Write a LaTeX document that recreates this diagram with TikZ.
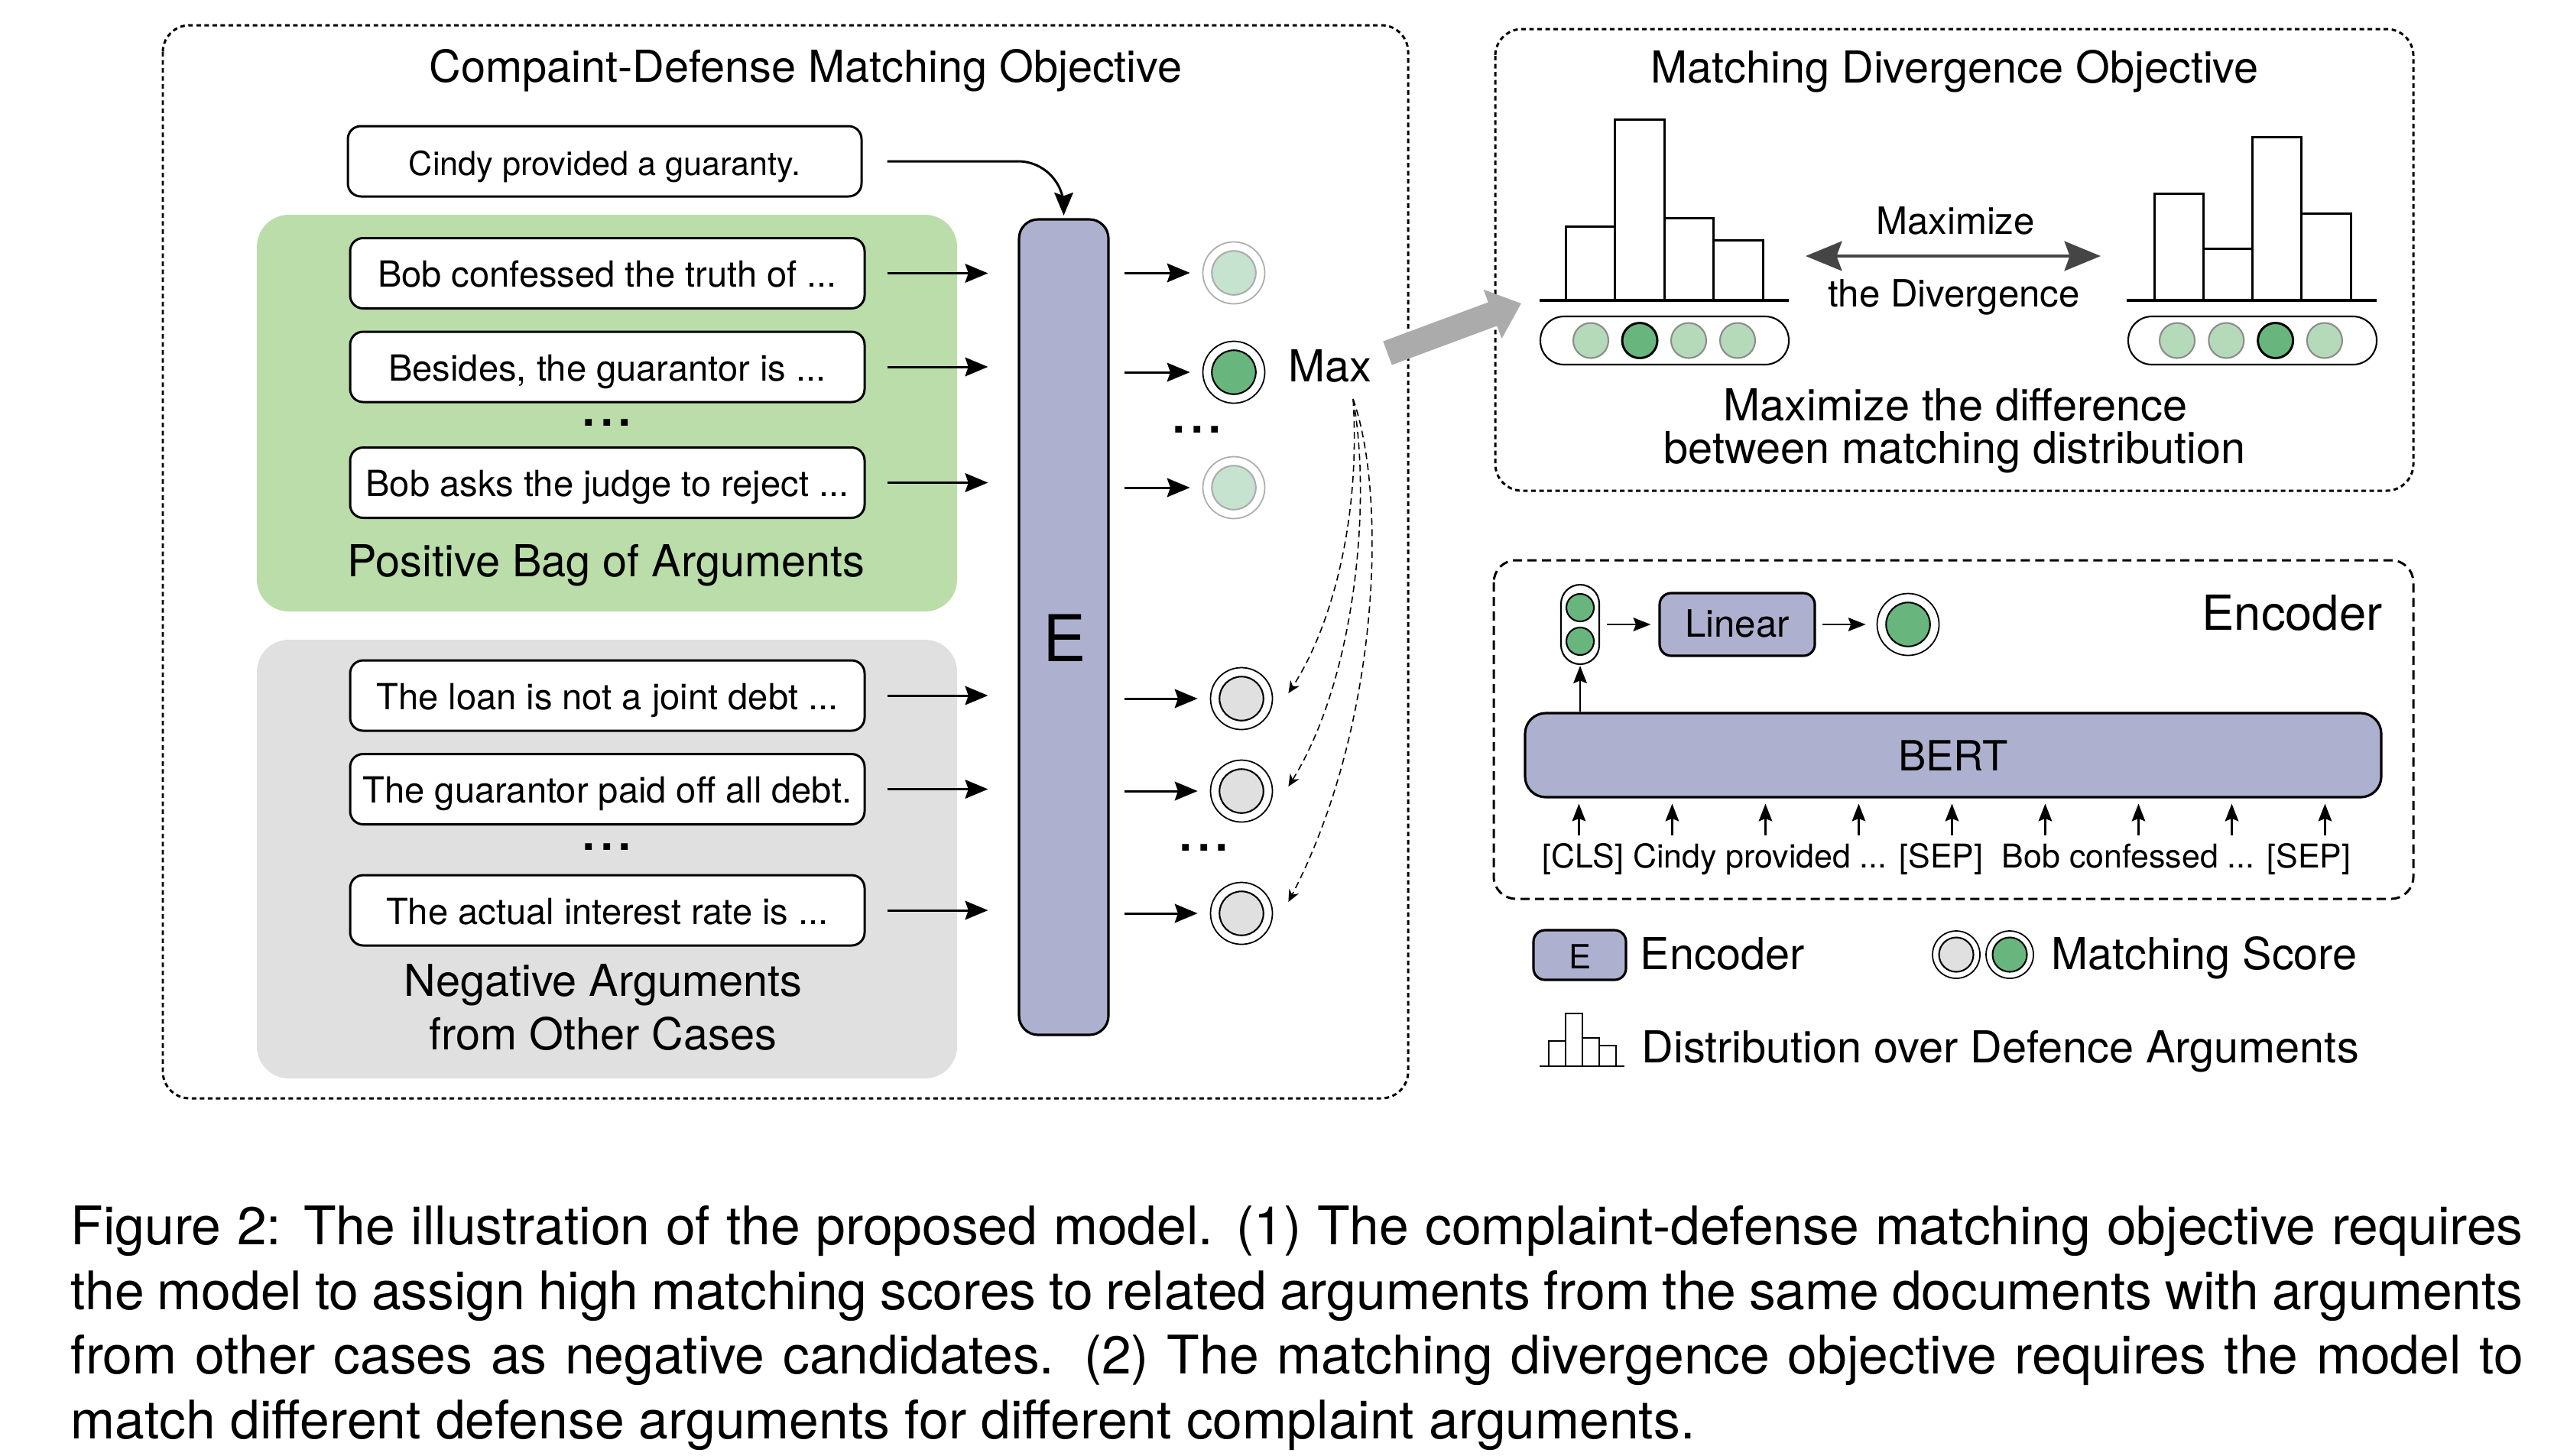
\documentclass[tikz,border=0pt]{standalone}
\usepackage{fontspec}
\setmainfont{TeX Gyre Heros}
\usetikzlibrary{arrows.meta}
\usetikzlibrary{calc}

\definecolor{encpurple}{HTML}{AEB0D0}
\definecolor{posgreen}{HTML}{BADDA9}
\definecolor{neggray}{HTML}{E0E0E0}
\definecolor{scoredark}{HTML}{68B67E}
\definecolor{scorepale}{HTML}{C6E3CF}
\definecolor{distpale}{HTML}{B5DAB9}
\definecolor{arrowgray}{HTML}{ABABAB}
\definecolor{darkarrow}{HTML}{454545}

% matching score: outer ring and filled inner disc
\newcommand{\scorenode}[6]{%
	\node[circle, draw=#3, fill=white, line width=0.5pt, minimum size=#5, inner sep=0pt] (#1) at (#2) {};
	\node[circle, draw=#3, fill=#4, line width=0.6pt, minimum size=#6, inner sep=0pt] at (#1) {};
}

\tikzset{
	cdframe/.style={line width=0.85pt, dash pattern=on 1.7pt off 1.3pt, rounded corners=0.35cm},
	encframe/.style={line width=0.85pt, dash pattern=on 3.4pt off 2pt, rounded corners=0.29cm},
	argbox/.style={draw, fill=white, line width=0.85pt, rounded corners=0.17cm, minimum width=6.73cm, minimum height=0.92cm, inner sep=0pt, text height=12pt, text depth=1.5pt, font=\fontsize{13.4pt}{16pt}\selectfont},
	encbox/.style={draw, fill=encpurple, line width=0.9pt, inner sep=0pt},
	lbl/.style={font=\fontsize{16.4pt}{19.7pt}\selectfont, inner sep=0pt},
	capl/.style={font=\fontsize{19.8pt}{24pt}\selectfont, inner sep=0pt},
	dots/.style={font=\fontsize{24pt}{24pt}\selectfont, inner sep=0pt, text height=3pt, text depth=0pt},
	arr/.style={line width=0.85pt, -{Stealth[length=8.5pt, width=7pt, inset=1.2pt]}},
	smarr/.style={line width=0.8pt, -{Stealth[length=6.5pt, width=5pt, inset=1pt]}},
	dasharr/.style={line width=0.45pt, dash pattern=on 2.5pt off 1.6pt, -{Stealth[length=4.5pt, width=4pt]}},
	bigarr/.style={draw=arrowgray, line width=0.33cm, -{Triangle[length=0.40cm, width=0.66cm]}},
	dblarr/.style={draw=darkarrow, line width=1.2pt, {Stealth[length=13.5pt, width=11pt, inset=2pt]}-{Stealth[length=13.5pt, width=11pt, inset=2pt]}},
	bar/.style={draw, fill=white, line width=0.85pt},
	thinbar/.style={draw, fill=white, line width=0.45pt},
	distdot/.style={circle, draw=black!45, fill=distpale, line width=0.6pt, minimum size=0.46cm, inner sep=0pt},
	distdark/.style={circle, draw=black, fill=scoredark, line width=0.85pt, minimum size=0.46cm, inner sep=0pt},
	clsdot/.style={circle, draw=black, fill=scoredark, line width=0.6pt, minimum size=0.36cm, inner sep=0pt},
}

\begin{document}
\begin{tikzpicture}
	\useasboundingbox (0,0) rectangle (33.58,-19.04);

	% frames
	\draw[cdframe] (2.13,-0.33) rectangle (18.42,-14.37);
	\draw[cdframe] (19.56,-0.38) rectangle (31.57,-6.42);
	\draw[encframe] (19.54,-7.33) rectangle (31.57,-11.76);

	% bags of arguments
	\fill[posgreen, rounded corners=0.42cm] (3.36,-2.81) rectangle (12.52,-8.00);
	\fill[neggray, rounded corners=0.42cm] (3.36,-8.37) rectangle (12.52,-14.11);

	% complaint-defense matching objective
	\node[lbl, anchor=base] (ttlcdm) at (10.54,-1.07) {Compaint-Defense Matching Objective};
	\node[argbox, minimum width=6.72cm, font=\fontsize{12.3pt}{15pt}\selectfont] (cindy) at (7.91,-2.11) {Cindy provided a guaranty.};
	\node[argbox] (pos1) at (7.945,-3.575) {Bob confessed the truth of ...};
	\node[argbox] (pos2) at (7.945,-4.80) {Besides, the guarantor is ...};
	\node[dots, anchor=base] (posdots) at (7.94,-5.57) {...};
	\node[argbox] (pos3) at (7.945,-6.315) {Bob asks the judge to reject ...};
	\node[lbl, anchor=base] (poslbl) at (7.93,-7.54) {Positive Bag of Arguments};
	\node[argbox] (neg1) at (7.945,-9.10) {The loan is not a joint debt ...};
	\node[argbox] (neg2) at (7.945,-10.325) {The guarantor paid off all debt.};
	\node[dots, anchor=base] (negdots) at (7.94,-11.12) {...};
	\node[argbox] (neg3) at (7.945,-11.91) {The actual interest rate is ...};
	\node[lbl, anchor=base] (neglbl1) at (7.89,-13.03) {Negative Arguments};
	\node[lbl, anchor=base] (neglbl2) at (7.89,-13.73) {from Other Cases};

	% encoder column
	\node[encbox, rounded corners=0.25cm, minimum width=1.17cm, minimum height=10.67cm] (E) at (13.915,-8.205) {};
	\node[anchor=base, inner sep=0pt, font=\fontsize{24pt}{24pt}\selectfont] (Elbl) at (13.93,-8.65) {E};
	\draw[arr, rounded corners=0.6cm, shorten <=0.32cm, shorten >=1pt] (cindy.east) -| (E.north);
	\foreach \a in {pos1,pos2,pos3,neg1,neg2,neg3} {
		\draw[arr, shorten <=0.28cm, shorten >=0.39cm] (\a.east) -- (\a.east -| E.west);
	}

	% matching scores
	\scorenode{sp1}{16.14,-3.57}{black!32}{scorepale}{0.81cm}{0.575cm}
	\scorenode{sp2}{16.14,-4.87}{black}{scoredark}{0.81cm}{0.575cm}
	\scorenode{sp3}{16.14,-6.38}{black!32}{scorepale}{0.81cm}{0.575cm}
	\scorenode{sn1}{16.24,-9.14}{black}{neggray}{0.81cm}{0.575cm}
	\scorenode{sn2}{16.24,-10.35}{black}{neggray}{0.81cm}{0.575cm}
	\scorenode{sn3}{16.24,-11.95}{black}{neggray}{0.81cm}{0.575cm}
	\foreach \s in {sp1,sp2,sp3,sn1,sn2,sn3} {
		\draw[arr, shorten <=0.19cm, shorten >=0.16cm] (E.east |- \s) -- (\s);
	}
	\node[dots, anchor=base] (spdots) at (15.66,-5.66) {...};
	\node[dots, anchor=base] (sndots) at (15.75,-11.13) {...};

	% max, and the negatives it is compared with
	\node[lbl, anchor=base] (max) at (17.40,-4.99) {Max};
	\coordinate (maxft) at (17.70,-5.22);
	\draw[dasharr] (maxft) .. controls (17.80,-6.80) and (17.42,-8.20) .. ([shift={(0.2,0.07)}]sn1.east);
	\draw[dasharr] (maxft) .. controls (17.95,-6.60) and (17.72,-8.90) .. ([shift={(0.2,0.06)}]sn2.east);
	\draw[dasharr] (maxft) .. controls (18.15,-6.50) and (18.05,-9.50) .. ([shift={(0.2,0.15)}]sn3.east);

	% towards the divergence objective
	\coordinate (bigs) at (18.15,-4.62);
	\coordinate (bige) at (19.90,-3.97);
	\draw[bigarr] (bigs) -- (bige);

	% matching divergence objective
	\node[lbl, anchor=base] (ttlmdo) at (25.57,-1.08) {Matching Divergence Objective};
	\foreach \h [count=\i from 0] in {2.96,1.56,2.85,3.14} {
		\draw[bar] (20.48+0.645*\i,-3.93) rectangle ++(0.645,{3.93-\h});
	}
	\draw[line width=1.1pt] (20.14,-3.93) -- (23.40,-3.93);
	\foreach \h [count=\i from 0] in {2.53,3.25,1.79,2.79} {
		\draw[bar] (28.18+0.643*\i,-3.93) rectangle ++(0.643,{3.93-\h});
	}
	\draw[line width=1.1pt] (27.82,-3.93) -- (31.09,-3.93);
	\node[draw, line width=0.6pt, rounded corners=0.31cm, minimum width=3.25cm, minimum height=0.63cm, inner sep=0pt] (pillL) at (21.775,-4.455) {};
	\node[draw, line width=0.6pt, rounded corners=0.31cm, minimum width=3.25cm, minimum height=0.63cm, inner sep=0pt] (pillR) at (29.465,-4.455) {};
	\foreach \i/\d in {0/distdot,1/distdark,2/distdot,3/distdot} {
		\node[\d] (dl\i) at (20.81+0.64*\i,-4.455) {};
	}
	\foreach \i/\d in {0/distdot,1/distdot,2/distdark,3/distdot} {
		\node[\d] (dr\i) at (28.48+0.643*\i,-4.455) {};
	}
	\coordinate (dbll) at (23.62,-3.35);
	\coordinate (dblr) at (27.48,-3.35);
	\draw[dblarr] (dbll) -- (dblr);
	\node[anchor=base, inner sep=0pt, font=\fontsize{14pt}{17pt}\selectfont] (maxi) at (25.58,-3.06) {Maximize};
	\node[anchor=base, inner sep=0pt, font=\fontsize{14pt}{17pt}\selectfont] (divg) at (25.56,-4.01) {the Divergence};
	\node[lbl, anchor=base] (diff1) at (25.58,-5.50) {Maximize the difference};
	\node[lbl, anchor=base] (diff2) at (25.57,-6.06) {between matching distribution};

	% encoder
	\node[anchor=base, inner sep=0pt, font=\fontsize{18pt}{21pt}\selectfont] (enclbl) at (29.985,-8.24) {Encoder};
	\node[draw, line width=0.6pt, fill=white, rounded corners=0.25cm, minimum width=0.5cm, minimum height=1.04cm, inner sep=0pt] (cls) at (20.67,-8.17) {};
	\node[clsdot] (cls1) at (20.67,-7.95) {};
	\node[clsdot] (cls2) at (20.67,-8.39) {};
	\node[encbox, rounded corners=0.15cm, minimum width=2.03cm, minimum height=0.82cm, text height=10.5pt, text depth=1pt, font=\fontsize{14pt}{17pt}\selectfont] (linear) at (22.725,-8.17) {Linear};
	\scorenode{out}{24.96,-8.17}{black}{scoredark}{0.81cm}{0.575cm}
	\node[encbox, rounded corners=0.27cm, minimum width=11.2cm, minimum height=1.10cm, text height=12.4pt, text depth=1pt, font=\fontsize{15.5pt}{18pt}\selectfont] (bert) at (25.55,-9.88) {BERT};
	\draw[smarr, shorten <=0.09cm, shorten >=0.10cm] (cls) -- (linear);
	\draw[smarr, shorten <=0.08cm, shorten >=0.14cm] (linear) -- (out);
	\draw[smarr, shorten >=0.01cm] (bert.north -| cls.south) -- (cls.south);
	\foreach \i in {0,...,8} {
		\draw[smarr] ($(bert.south west)+(0.72+1.22*\i,-0.48)$) -- ++(0,0.41);
	}
	\node[anchor=base, inner sep=0pt, font=\fontsize{12.2pt}{15pt}\selectfont] (toks) at (25.465,-11.35) {[CLS] Cindy provided ... [SEP]\hspace{0.3em} Bob confessed ... [SEP]};

	% legend
	\node[encbox, rounded corners=0.15cm, minimum width=1.21cm, minimum height=0.65cm, text height=10pt, text depth=0pt, font=\fontsize{12.4pt}{15pt}\selectfont] (legE) at (20.665,-12.495) {E};
	\node[lbl, anchor=base west] (legEtxt) at (21.45,-12.68) {Encoder};
	\scorenode{legneg}{25.59,-12.49}{black}{neggray}{0.62cm}{0.45cm}
	\scorenode{legpos}{26.29,-12.49}{black}{scoredark}{0.62cm}{0.45cm}
	\node[lbl, anchor=base west] (legstxt) at (26.83,-12.68) {Matching Score};
	\foreach \h [count=\i from 0] in {13.62,13.26,13.58,13.68} {
		\draw[thinbar] (20.26+0.22*\i,-13.95) rectangle ++(0.22,{13.95-\h});
	}
	\draw[line width=0.6pt] (20.14,-13.95) -- (21.25,-13.95);
	\node[lbl, anchor=base west] (legdtxt) at (21.47,-13.90) {Distribution over Defence Arguments};

	% caption
	\node[capl, anchor=base west] (cap1) at (0.92,-16.28) {\makebox[32.08cm][s]{Figure 2: The illustration of the proposed model. (1) The complaint-defense matching objective requires}};
	\node[capl, anchor=base west] (cap2) at (0.92,-17.13) {\makebox[32.08cm][s]{the model to assign high matching scores to related arguments from the same documents with arguments}};
	\node[capl, anchor=base west] (cap3) at (0.92,-17.97) {\makebox[32.08cm][s]{from other cases as negative candidates. (2) The matching divergence objective requires the model to}};
	\node[capl, anchor=base west] (cap4) at (0.92,-18.82) {match different defense arguments for different complaint arguments.};
\end{tikzpicture}
\end{document}
